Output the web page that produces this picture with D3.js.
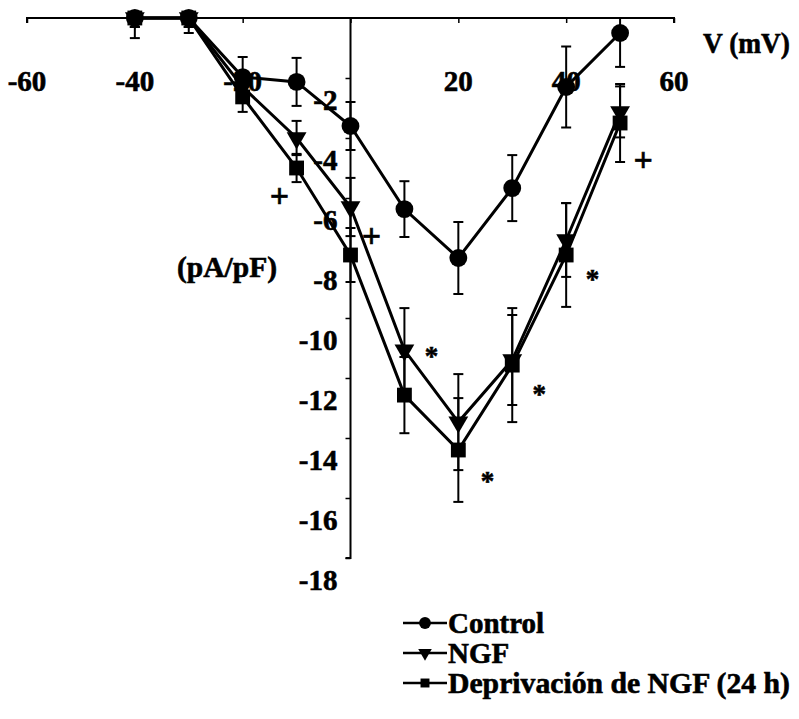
<!DOCTYPE html>
<html>
<head>
<meta charset="utf-8">
<script src="https://cdn.jsdelivr.net/npm/d3@7"></script>
<style>
  body { margin: 0; background: #fff; }
  text { font-family: "Liberation Serif", "Times New Roman", serif; font-weight: bold; fill: #000; stroke: #000; stroke-width: 0.6px; }
</style>
</head>
<body>
<div class="chart"></div>
<script>
// I-V curve: current density vs voltage
let voltages = [-40, -30, -20, -10, 0, 10, 20, 30, 40, 50];

let controlValues = [0, 0, -1.97, -2.13, -3.6, -6.37, -8.0, -5.67, -2.3, -0.5];
let controlErrors = [0.67, 0.5, 0.67, 0.8, 0.8, 0.93, 1.2, 1.1, 1.35, 1.13];

let ngfValues = [0, 0, -2.3, -4.0, -6.3, -11.07, -13.47, -11.4, -7.4, -3.13];
let ngfErrors = [0.3, 0.3, 0.5, 0.57, 0.97, 1.4, 1.6, 1.5, 1.23, 0.85];

let deprivValues = [0, 0, -2.63, -5.0, -7.9, -12.57, -14.4, -11.57, -7.9, -3.5];
let deprivErrors = [0.3, 0.3, 0.5, 0.47, 0.9, 1.27, 1.73, 1.9, 1.73, 1.3];

let seriesNames = ["Control", "NGF", "Deprivación de NGF (24 h)"];
let seriesSymbols = ["circle", "triangle", "square"];

let xTicks = [-60, -40, -20, 0, 20, 40, 60];
let xTickLabels = ["-60", "-40", "-20", "", "20", "40", "60"];
let yTicks = [-2, -4, -6, -8, -10, -12, -14, -16, -18];

// significance marks [x (mV), y (pA/pF), symbol]
let markX = [-13.2, 3.9, 15.0, 35.0, 25.4, 44.9, 54.3];
let markY = [-5.97, -7.3, -11.13, -12.4, -15.3, -8.57, -4.77];
let markSymbol = ["+", "+", "*", "*", "*", "*", "+"];

let svgWidth = 799;
let svgHeight = 719;

let svg = d3.select(".chart")
  .append("svg")
  .attr("width", svgWidth)
  .attr("height", svgHeight);

let x = d3.scaleLinear().domain([-60, 60]).range([27, 674]);
let y = d3.scaleLinear().domain([0, -18]).range([18, 558]);

// clip error bars to the plot area (below the top axis)
svg.append("clipPath").attr("id", "plotClip")
  .append("rect")
  .attr("x", 0).attr("y", y(0))
  .attr("width", svgWidth).attr("height", y(-18) - y(0) + 40);

// x axis along the top (value 0)
let xAxis = svg.append("g")
  .attr("transform", `translate(0, ${y(0)})`)
  .call(d3.axisBottom(x).tickValues(xTicks).tickSize(5).tickFormat(""));
xAxis.select(".domain").attr("stroke-width", 2).attr("d", `M${x(-60)},5V0H${x(60)}V5`);
xAxis.selectAll(".tick line").attr("stroke-width", 1.5);

svg.append("g").selectAll("text")
  .data(xTicks)
  .enter()
  .append("text")
  .attr("x", d => x(d))
  .attr("y", 91)
  .attr("text-anchor", "middle")
  .attr("font-size", "29px")
  .text((d, i) => xTickLabels[i]);

// y axis through x = 0
let yAxis = svg.append("g")
  .attr("transform", `translate(${x(0)}, 0)`)
  .call(d3.axisLeft(y).tickValues(yTicks).tickSize(5).tickFormat(""));
yAxis.select(".domain").attr("stroke-width", 2).attr("d", `M0,${y(0)}V${y(-18)}H-5`);
yAxis.selectAll(".tick line").attr("stroke-width", 1.5);

svg.append("g").selectAll("text")
  .data(yTicks)
  .enter()
  .append("text")
  .attr("x", x(0) - 13)
  .attr("y", d => y(d) + 32)
  .attr("text-anchor", "end")
  .attr("font-size", "29px")
  .text(d => d);

// axis titles
svg.append("text")
  .attr("x", 703)
  .attr("y", 53)
  .attr("font-size", "29px")
  .attr("textLength", 87)
  .attr("lengthAdjust", "spacingAndGlyphs")
  .text("V (mV)");

svg.append("text")
  .attr("x", 177)
  .attr("y", 277)
  .attr("font-size", "29px")
  .attr("textLength", 100)
  .attr("lengthAdjust", "spacingAndGlyphs")
  .text("(pA/pF)");

let series = [
  { name: seriesNames[0], values: controlValues, errors: controlErrors, symbol: seriesSymbols[0] },
  { name: seriesNames[1], values: ngfValues, errors: ngfErrors, symbol: seriesSymbols[1] },
  { name: seriesNames[2], values: deprivValues, errors: deprivErrors, symbol: seriesSymbols[2] }
];

function symbolPath(kind, size) {
  if (kind === "circle") return d3.symbol().type(d3.symbolCircle).size(size)();
  if (kind === "square") return d3.symbol().type(d3.symbolSquare).size(size)();
  // triangle, rotated to point down where it is used
  return d3.symbol().type(d3.symbolTriangle).size(size)();
}

let line = d3.line()
  .x(d => x(d.v))
  .y(d => y(d.i));

let plot = svg.append("g");

series.forEach(function (s) {
  let pts = voltages.map((v, k) => ({ v: v, i: s.values[k], e: s.errors[k] }));

  // error bars
  let eb = plot.append("g").attr("clip-path", "url(#plotClip)")
    .selectAll("g")
    .data(pts)
    .enter()
    .append("g")
    .attr("stroke", "#000");
  eb.append("line")
    .attr("x1", d => x(d.v)).attr("x2", d => x(d.v))
    .attr("y1", d => y(d.i + d.e)).attr("y2", d => y(d.i - d.e))
    .attr("stroke-width", 2);
  eb.append("line")
    .attr("x1", d => x(d.v) - 5).attr("x2", d => x(d.v) + 5)
    .attr("y1", d => y(d.i + d.e)).attr("y2", d => y(d.i + d.e))
    .attr("stroke-width", 2);
  eb.append("line")
    .attr("x1", d => x(d.v) - 5).attr("x2", d => x(d.v) + 5)
    .attr("y1", d => y(d.i - d.e)).attr("y2", d => y(d.i - d.e))
    .attr("stroke-width", 2);

  plot.append("path")
    .datum(pts)
    .attr("fill", "none")
    .attr("stroke", "#000")
    .attr("stroke-width", 3)
    .attr("d", line);

  let size = s.symbol === "circle" ? 250 : (s.symbol === "square" ? 220 : 170);
  plot.append("g").selectAll("path")
    .data(pts)
    .enter()
    .append("path")
    .attr("d", symbolPath(s.symbol, size))
    .attr("transform", d => `translate(${x(d.v)}, ${y(d.i)})` + (s.symbol === "triangle" ? " rotate(180)" : ""))
    .attr("fill", "#000");
});

// significance marks
svg.append("g").selectAll("text")
  .data(markX)
  .enter()
  .append("text")
  .attr("x", d => x(d))
  .attr("y", (d, i) => y(markY[i]) + (markSymbol[i] === "*" ? 13 : 10))
  .attr("text-anchor", "middle")
  .attr("font-size", (d, i) => markSymbol[i] === "*" ? "27px" : "34px")
  .text((d, i) => markSymbol[i]);

// legend
let legend = svg.append("g");
series.forEach(function (s, k) {
  let ly = 623 + k * 30;
  legend.append("line")
    .attr("x1", 403).attr("x2", 447)
    .attr("y1", ly).attr("y2", ly)
    .attr("stroke", "#000")
    .attr("stroke-width", 2.5);
  let size = s.symbol === "circle" ? 110 : (s.symbol === "square" ? 80 : 80);
  legend.append("path")
    .attr("d", symbolPath(s.symbol, size))
    .attr("transform", `translate(425, ${ly})` + (s.symbol === "triangle" ? " rotate(180)" : ""))
    .attr("fill", "#000");
  let t = legend.append("text")
    .attr("x", 448)
    .attr("y", ly + 10)
    .attr("font-size", "29px")
    .text(s.name);
  if (k === 2) t.attr("textLength", 342).attr("lengthAdjust", "spacingAndGlyphs");
});
</script>
</body>
</html>
